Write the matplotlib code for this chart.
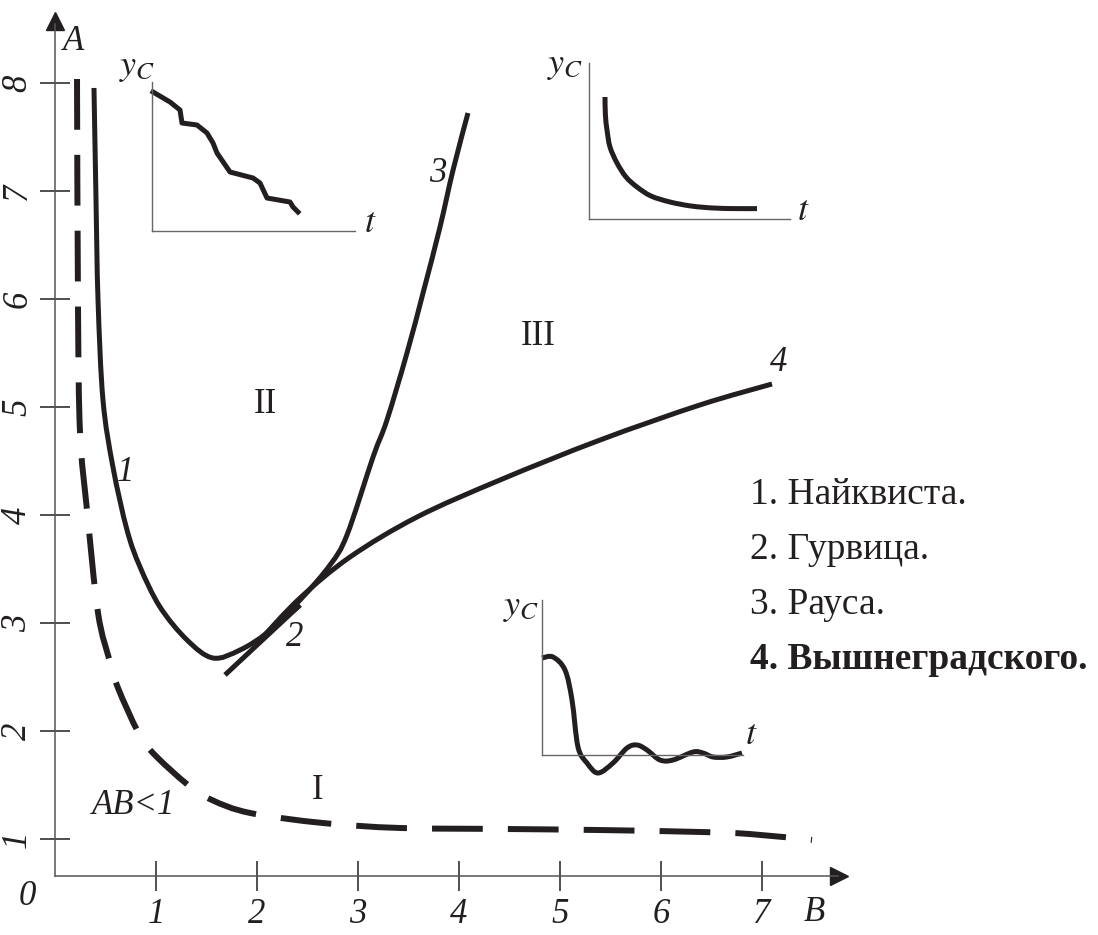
import matplotlib
matplotlib.use("Agg")
import matplotlib.pyplot as plt
from matplotlib.path import Path
from matplotlib.patches import PathPatch

plt.rcParams['font.family'] = ['Liberation Serif', 'DejaVu Serif']
plt.rcParams['mathtext.fontset'] = 'stix'

INK = '#231f20'
AXC = '#555555'

# stability boundaries in the (B, A) plane
nyq_b = [0.386, 0.406, 0.426, 0.475, 0.574, 0.713, 0.842, 1.040, 1.307, 1.564, 1.832, 2.099, 2.426]
nyq_a = [7.954, 6.917, 5.991, 5.065, 4.444, 3.861, 3.519, 3.148, 2.843, 2.676, 2.750, 2.907, 3.167]

hur_b = [1.683, 2.426]
hur_a = [2.519, 3.167]

rau_b = [2.030, 2.426, 2.723, 2.891, 3.149, 3.287, 3.485, 3.644, 3.812, 3.941, 4.089]
rau_a = [2.843, 3.213, 3.537, 3.815, 4.537, 4.880, 5.500, 6.056, 6.667, 7.194, 7.722]

vys_b = [2.030, 2.426, 2.921, 3.584, 4.406, 5.396, 6.386, 7.099]
vys_a = [2.843, 3.231, 3.611, 3.981, 4.324, 4.694, 5.019, 5.213]

ab_b = [0.218, 0.228, 0.248, 0.317, 0.426, 0.545, 0.624, 0.822, 0.970, 1.317, 1.554,
        1.931, 2.653, 3.416, 4.406, 5.396, 6.386, 6.881, 7.495]
ab_a = [8.037, 5.898, 4.759, 4.046, 3.093, 2.639, 2.398, 1.991, 1.796, 1.500, 1.361,
        1.241, 1.148, 1.102, 1.093, 1.083, 1.065, 1.046, 0.991]

# transient responses for the inset sketches
t1 = [0.05, 0.9, 1.4, 1.5, 2.25, 2.75, 3.05, 3.25, 3.9, 5.05, 5.4, 5.75, 6.9, 7.05, 7.3]
y1 = [6.95, 6.45, 6.05, 5.4, 5.3, 4.9, 4.4, 3.9, 2.95, 2.65, 2.4, 1.65, 1.45, 1.2, 0.95]

t2 = [0.8, 0.82, 0.9, 1.05, 1.4, 1.85, 2.4, 3.1, 4.05, 5.1, 6.2, 7.3, 8.4]
y2 = [6.1, 5.2, 4.45, 3.6, 2.8, 2.1, 1.6, 1.15, 0.85, 0.65, 0.55, 0.52, 0.52]

t3 = [0, 0.55, 1.15, 1.5, 1.8, 2.25, 2.8, 3.55, 4.25, 4.75, 5.25, 5.9, 6.55, 7.55, 8.05, 8.55, 9.25, 10.0]
y3 = [4.85, 4.9, 4.25, 2.75, 0.4, -0.4, -0.9, -0.4, 0.35, 0.5, 0.25, -0.25, -0.25, 0.15, 0.1, -0.1, -0.1, 0.1]

b_ticks = [1, 2, 3, 4, 5, 6, 7]
a_ticks = [1, 2, 3, 4, 5, 6, 7, 8]
criteria = ['1. Найквиста.', '2. Гурвица.', '3. Рауса.', '4. Вышнеградского.']

W, H = 1098, 935


def smooth(a, xs, ys, **kw):
    # draw a curve through the points as cubic Bezier pieces (Catmull-Rom style)
    pts = list(zip(xs, ys))
    verts = [pts[0]]
    codes = [Path.MOVETO]
    for i in range(len(pts) - 1):
        p0 = pts[i - 1] if i > 0 else pts[i]
        p1 = pts[i]
        p2 = pts[i + 1]
        p3 = pts[i + 2] if i + 2 < len(pts) else p2
        c1 = (p1[0] + (p2[0] - p0[0]) / 6, p1[1] + (p2[1] - p0[1]) / 6)
        c2 = (p2[0] - (p3[0] - p1[0]) / 6, p2[1] - (p3[1] - p1[1]) / 6)
        verts += [c1, c2, p2]
        codes += [Path.CURVE4] * 3
    a.add_patch(PathPatch(Path(verts, codes), fill=False, **kw))


fig = plt.figure(figsize=(W / 100, H / 100), dpi=100)
ax = fig.add_axes([0, 0, 1, 1])
ax.set_xlim(-55 / 101, 1043 / 101)
ax.set_ylim(1 - 96 / 108, 1 + 839 / 108)
ax.patch.set_visible(False)

x0 = 0.657  # where the B axis crosses
for s in ['top', 'right']:
    ax.spines[s].set_visible(False)
ax.spines['left'].set_position(('data', 0))
ax.spines['bottom'].set_position(('data', x0))
ax.spines['left'].set_bounds(x0, 8.55)
ax.spines['bottom'].set_bounds(0, 7.75)
for s in ['left', 'bottom']:
    ax.spines[s].set_color(AXC)
    ax.spines[s].set_linewidth(1.1)
ax.plot(0, 8.57, marker='^', ms=13, color=INK, clip_on=False)
ax.plot(7.76, x0, marker='>', ms=13, color=INK, clip_on=False)

ax.set_xticks(b_ticks)
ax.set_yticks(a_ticks)
ax.set_xticklabels([str(v) for v in b_ticks], style='italic', fontsize=25)
ax.set_yticklabels([str(v) for v in a_ticks], style='italic', fontsize=25,
                   rotation=90, va='center')
ax.tick_params(direction='inout', length=22, width=1.1, color=INK, labelcolor=INK)
ax.tick_params(axis='x', pad=5)
ax.tick_params(axis='y', pad=4)

smooth(ax, ab_b, ab_a, color=INK, lw=4.3, ls=(0, (8.5, 4.2)), capstyle='butt')
smooth(ax, nyq_b, nyq_a, color=INK, lw=3.6, capstyle='butt')
smooth(ax, hur_b, hur_a, color=INK, lw=3.6, capstyle='butt')
smooth(ax, rau_b, rau_a, color=INK, lw=3.6, capstyle='butt')
smooth(ax, vys_b, vys_a, color=INK, lw=3.6, capstyle='butt')

lab = dict(color=INK, ha='center', va='center', fontsize=25)
ax.text(0.18, 8.38, 'A', style='italic', **lab)
ax.text(7.52, 0.32, 'B', style='italic', **lab)
ax.text(-0.27, 0.47, '0', style='italic', **lab)
ax.text(0.70, 4.39, '1', style='italic', **lab)
ax.text(2.37, 2.87, '2', style='italic', **lab)
ax.text(3.79, 7.16, '3', style='italic', **lab)
ax.text(7.16, 5.41, '4', style='italic', **lab)
ax.text(0.78, 1.31, 'AB<1', style='italic', **lab)
ax.text(2.08, 5.02, 'II', **lab)
ax.text(4.78, 5.65, 'III', **lab)
ax.text(2.60, 1.45, 'I', **lab)

for i, name in enumerate(criteria):
    ax.text(6.88, 4.185 - i * 0.509, name, color=INK, fontsize=27, ha='left', va='center',
            fontweight='bold' if i == 3 else 'normal')


def inset(ox, oy, w, h, t, y, ylab, tlab, smooth_it):
    a = fig.add_axes([ox / W, (H - oy) / H, w / W, h / H])
    a.set_xlim(0, w / 20)
    a.set_ylim(0, h / 20)
    a.patch.set_visible(False)
    for s in ['top', 'right']:
        a.spines[s].set_visible(False)
    for s in ['left', 'bottom']:
        a.spines[s].set_color('#666666')
        a.spines[s].set_linewidth(1.0)
    a.set_xticks([])
    a.set_yticks([])
    if smooth_it:
        smooth(a, t, y, color=INK, lw=3.6, clip_on=False, capstyle='butt')
    else:
        a.plot(t, y, color=INK, lw=3.6, clip_on=False)
    a.text(ylab[0], ylab[1], r'$y_C$', fontsize=26, color=INK, ha='center', va='center')
    a.text(tlab[0], tlab[1], r'$t$', fontsize=26, color=INK, ha='center', va='center')
    return a


inset(152, 231, 203, 149, t1, y1, (-0.75, 8.15), (10.9, 0.4), False)
inset(589, 219, 201, 156, t2, y2, (-1.2, 7.7), (10.7, 0.35), True)
inset(542, 755, 201, 155, t3, y3, (-1.05, 7.35), (10.45, 1.0), True)

fig.savefig('out.png', dpi=100)
